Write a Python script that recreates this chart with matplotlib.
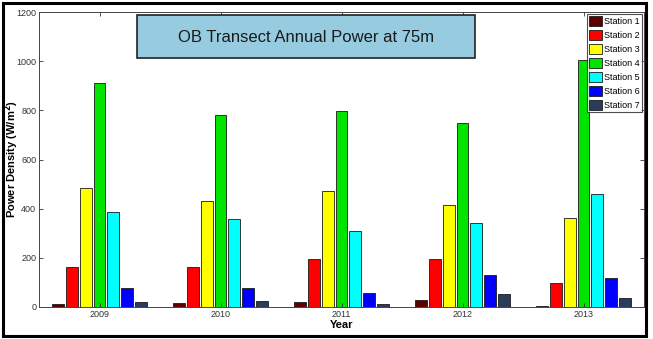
import matplotlib
matplotlib.use("Agg")
import matplotlib.pyplot as plt
import numpy as np
from matplotlib.patches import Rectangle

plt.rcParams['font.family'] = ['Liberation Sans', 'DejaVu Sans']

years = ['2009', '2010', '2011', '2012', '2013']
stations = ['Station 1', 'Station 2', 'Station 3', 'Station 4', 'Station 5', 'Station 6', 'Station 7']
station1 = [13, 17, 20, 28, 5]
station2 = [163, 163, 197, 195, 98]
station3 = [483, 433, 470, 415, 362]
station4 = [910, 783, 798, 750, 1005]
station5 = [386, 357, 310, 342, 460]
station6 = [77, 77, 58, 130, 118]
station7 = [22, 25, 12, 52, 35]
series = [station1, station2, station3, station4, station5, station6, station7]
colors = ['#5c0000', '#ff0000', '#ffff00', '#00e400', '#00ffff', '#0000ff', '#2a3b5c']

fig = plt.figure(figsize=(6.53, 3.39), dpi=100)
ax = fig.add_axes([39/653, 1-307/339, (644-39)/653, (307-12)/339])

x = np.arange(1, len(years)+1)
n = len(series)
gw = 0.8
step = gw / n
bw = step * 0.85
for i, (vals, c, lab) in enumerate(zip(series, colors, stations)):
    off = -gw/2 + step*(i+0.5)
    ax.bar(x + off, vals, width=bw, color=c, edgecolor='#1a1a1a', linewidth=0.6, label=lab)

ax.set_xlim(0.5, 5.5)
ax.set_ylim(0, 1200)
ax.set_xticks(x)
ax.set_xticklabels(years)
ax.set_yticks(np.arange(0, 1201, 200))
ax.tick_params(direction='in', labelsize=6.5, top=True, right=True, length=3, width=0.6, colors='#333333', pad=2)
for s in ax.spines.values():
    s.set_linewidth(0.7)
    s.set_color('#444444')
ax.set_xlabel('Year', fontsize=8, fontweight='bold', labelpad=1)
ax.set_ylabel('Power Density (W/m$^\\mathbf{2}$)', fontsize=8, fontweight='bold')
ax.yaxis.set_label_coords((21-39)/605, 0.5)

leg = ax.legend(loc='upper right', fontsize=6.5, frameon=True, fancybox=False, edgecolor='#222222',
                handlelength=1.5, handleheight=1.3, handletextpad=0.2, labelspacing=0.45,
                borderpad=0.2, borderaxespad=0.25)
leg.get_frame().set_linewidth(0.8)

# title box
fig.patches.append(Rectangle((137/653, 1-58/339), (475-137)/653, (58-15)/339,
                             transform=fig.transFigure, facecolor='#97cce0', edgecolor='#222222',
                             linewidth=1.2, zorder=5))
fig.text(306/653, 1-37/339, 'OB Transect Annual Power at 75m', ha='center', va='center',
         fontsize=12, color='#1a1a1a', zorder=6)

# outer border
fig.patches.append(Rectangle((3/653, 3/339), (646-3)/653, (336-3)/339,
                             transform=fig.transFigure, facecolor='none', edgecolor='black',
                             linewidth=2.2, zorder=10))

fig.savefig('out.png', dpi=100)
